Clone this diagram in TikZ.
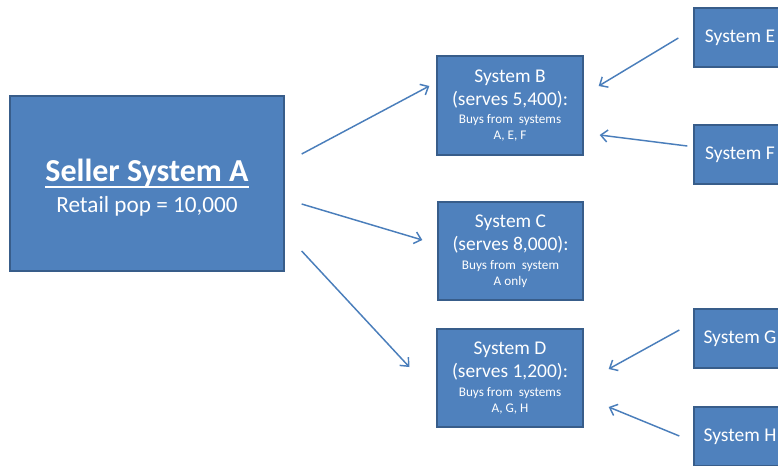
\documentclass[tikz,border=0pt]{standalone}
\usepackage{fontspec}
\setmainfont{Carlito}
\usepackage{xcolor}
\usepackage{tikz}
\usetikzlibrary{arrows.meta}
\definecolor{boxfill}{HTML}{4F81BD}
\definecolor{boxline}{HTML}{385D8A}
\definecolor{arrowc}{HTML}{4A7EBB}
\tikzset{
  sysbox/.style={draw=boxline, fill=boxfill, line width=1pt, text=white, align=center, inner sep=0pt},
  conn/.style={draw=arrowc, line width=1.1pt, -{Straight Barb[length=5pt,width=9pt]}},
  big/.style={font=\fontsize{14.6}{17.3}\selectfont},
}
\newcommand{\smalltxt}{\fontsize{9.9}{12}\selectfont}
\newlength{\ulw}
\newcommand{\ultext}[1]{\settowidth{\ulw}{#1}\rlap{\rule[-5pt]{\ulw}{1.6pt}}#1}

\begin{document}
\begin{tikzpicture}[x=0.75pt,y=-0.75pt]
  \clip (0,0) rectangle (778,465);

  % seller
  \node[sysbox, font=\fontsize{17.4}{23.6}\selectfont, minimum width=274*0.75pt, minimum height=175*0.75pt] (A) at (147,183.5)
    {\rule{0pt}{23pt}{\fontsize{24}{24}\selectfont\bfseries\ultext{Seller System A}}\\
     Retail pop = 10,000};

  % buyers
  \node[sysbox, big, minimum width=146*0.75pt, minimum height=99*0.75pt] (B) at (510,105.5)
    {System B\\(serves 5,400):\\[-3.3pt]{\smalltxt Buys from\ \ systems}\\[-5.3pt]{\smalltxt A, E, F}};
  \node[sysbox, big, minimum width=145*0.75pt, minimum height=98*0.75pt] (C) at (510.5,251)
    {System C\\(serves 8,000):\\[-3.3pt]{\smalltxt Buys from\ \ system}\\[-5.3pt]{\smalltxt A only}};
  \node[sysbox, big, minimum width=146*0.75pt, minimum height=98*0.75pt] (D) at (510,378)
    {System D\\(serves 1,200):\\[-3.3pt]{\smalltxt Buys from\ \ systems}\\[-5.3pt]{\smalltxt A, G, H}};

  % other sellers
  \node[sysbox, big, minimum width=92*0.75pt, minimum height=59*0.75pt] (E) at (740,37.5) {System E};
  \node[sysbox, big, minimum width=92*0.75pt, minimum height=59*0.75pt] (F) at (740,154.5) {System F};
  \node[sysbox, big, minimum width=92*0.75pt, minimum height=59*0.75pt] (G) at (740,338.5) {System G};
  \node[sysbox, big, minimum width=92*0.75pt, minimum height=59*0.75pt] (H) at (740,436.5) {System H};

  \draw[conn] ([shift={(17,-29.5)}]A.east) -- ([shift={(-7,-19.5)}]B.west);
  \draw[conn] ([shift={(17,20.5)}]A.east) -- ([shift={(-15,-11)}]C.west);
  \draw[conn] ([shift={(17,67.5)}]A.east) -- ([shift={(-27,-11)}]D.west);

  \draw[conn] ([shift={(-15,0.5)}]E.west) -- ([shift={(15,-19.5)}]B.east);
  \draw[conn] ([shift={(-6,-8.5)}]F.west) -- ([shift={(16,29.5)}]B.east);
  \draw[conn] ([shift={(-14,-8.5)}]G.west) -- ([shift={(25,-9)}]D.east);
  \draw[conn] ([shift={(-14,-0.5)}]H.west) -- ([shift={(25,29)}]D.east);
\end{tikzpicture}
\end{document}
